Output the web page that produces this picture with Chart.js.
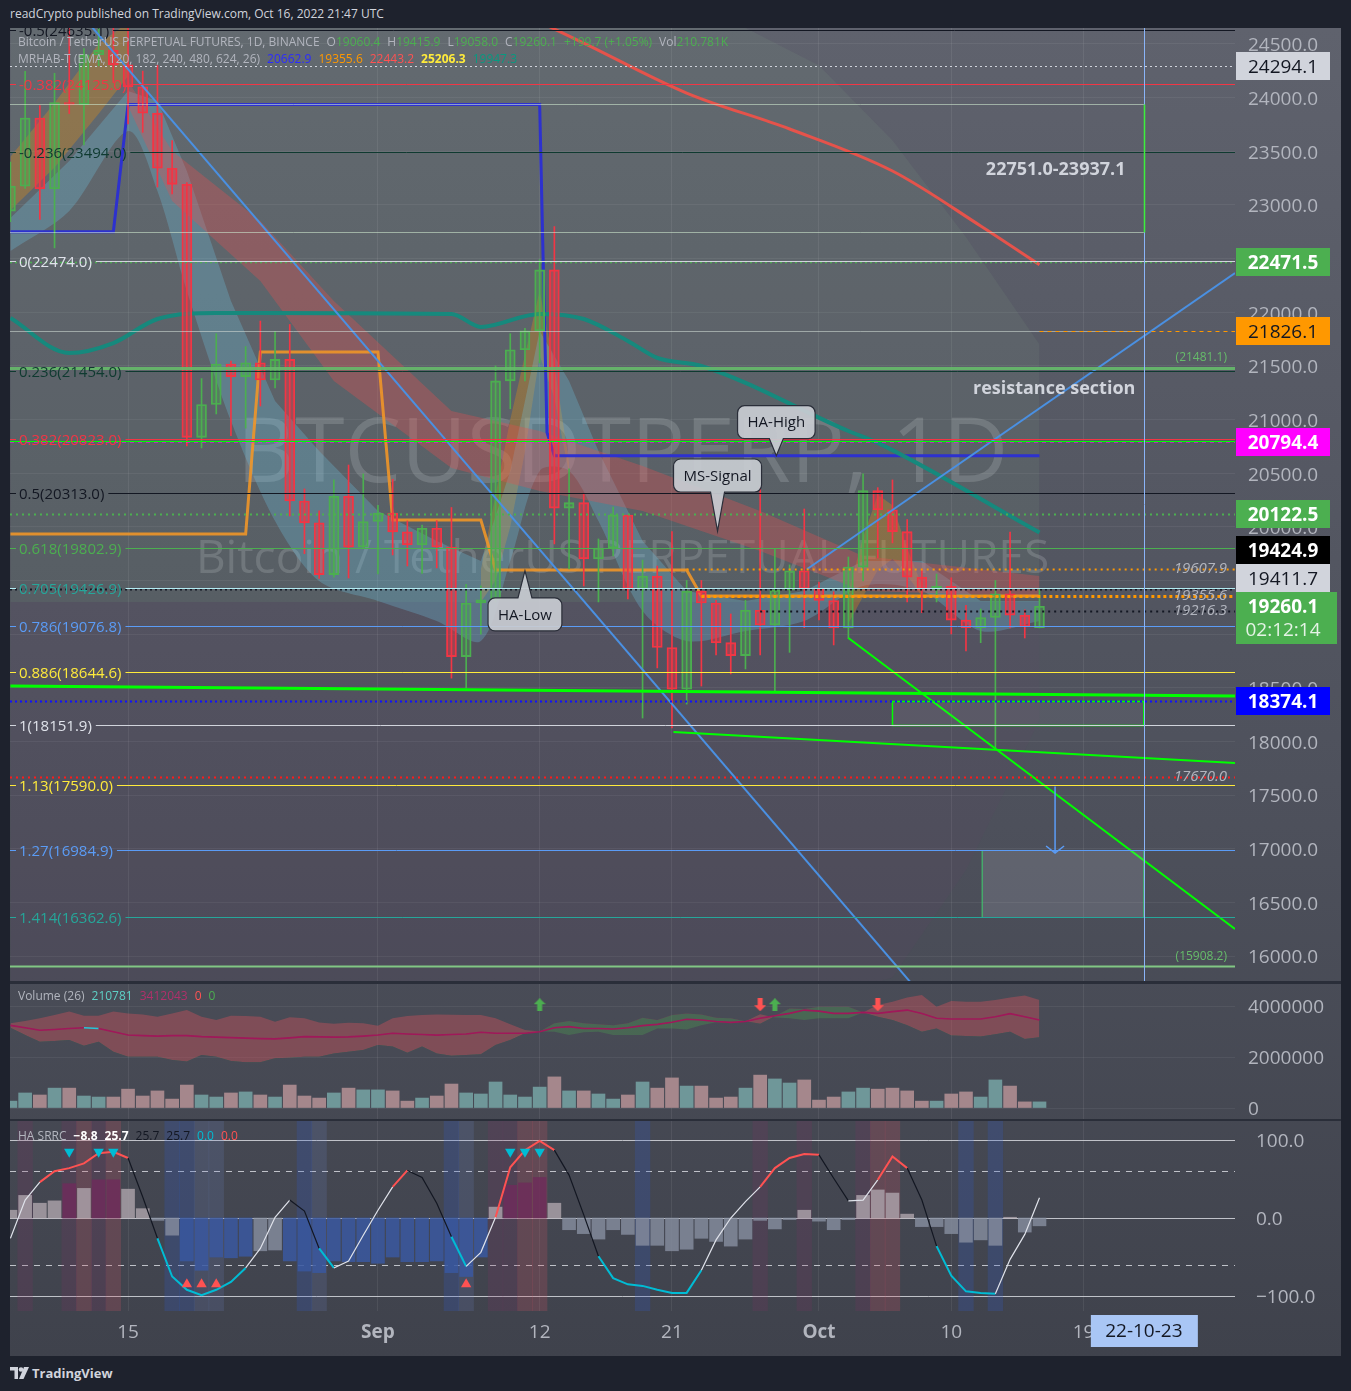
<!DOCTYPE html>
<html>
<head>
<meta charset="utf-8">
<title>BTCUSDTPERP, 1D</title>
<script src="https://cdn.jsdelivr.net/npm/chart.js@4.4.1/dist/chart.umd.min.js"></script>
<style>
  html, body { margin: 0; padding: 0; }
  body { width: 1351px; height: 1391px; background: #1e222d; overflow: hidden; font-family: 'Open Sans', sans-serif; position: relative; }
  #panel { position: absolute; left: 10px; top: 28px; width: 1331px; height: 1328px;
           background: linear-gradient(#5f626d 0%, #4d505b 60%, #3f424c 100%); }
  .pane { position: absolute; left: 10px; width: 1331px; }
  .pane canvas { display: block; }
  .sep { position: absolute; left: 10px; width: 1331px; background: #2a2e39; }
  .txt { position: absolute; white-space: nowrap; font-size: 12px; line-height: 16px; color: #b2b5be; }
  .g { color: #4caf50; }
  .sp { margin-left: 7px; }
</style>
</head>
<body>
<div class="txt" style="left:10px;top:6px;color:#d1d4dc">readCrypto published on TradingView.com, Oct 16, 2022 21:47 UTC</div>
<div id="panel"></div>
<div class="pane" style="top:28px;height:953px"><canvas id="main" width="1331" height="953"></canvas></div>
<div class="sep" style="top:981px;height:3px"></div>
<div class="pane" style="top:984px;height:135px"><canvas id="vol" width="1331" height="135"></canvas></div>
<div class="sep" style="top:1119px;height:2px"></div>
<div class="pane" style="top:1121px;height:235px"><canvas id="osc" width="1331" height="235"></canvas></div>

<div class="txt" style="left:18px;top:34px">Bitcoin / TetherUS PERPETUAL FUTURES, 1D, BINANCE<span class="sp">O</span><span class="g">19060.4</span><span class="sp">H</span><span class="g">19415.9</span><span class="sp">L</span><span class="g">19058.0</span><span class="sp">C</span><span class="g">19260.1</span><span class="sp g">+199.7 (+1.05%)</span><span class="sp">Vol</span><span class="g">210.781K</span></div>
<div class="txt" style="left:18px;top:51px">MRHAB-T (EMA, 120, 182, 240, 480, 624, 26)<span class="sp" style="color:#2b2bff">20662.9</span><span class="sp" style="color:#ff9800">19355.6</span><span class="sp" style="color:#ff5252">22443.2</span><span class="sp" style="color:#ffeb3b;font-weight:bold">25206.3</span><span class="sp" style="color:#089981">19947.3</span></div>
<div class="txt" style="left:18px;top:988px">Volume (26)<span class="sp" style="color:#5ed1c6">210781</span><span class="sp" style="color:#b0306a">3412043</span><span class="sp" style="color:#ff5252">0</span><span class="sp" style="color:#4caf50">0</span></div>
<div class="txt" style="left:18px;top:1128px">HA SRRC<span class="sp" style="color:#fff;font-weight:bold">&minus;8.8</span><span class="sp" style="color:#fff;font-weight:bold">25.7</span><span class="sp" style="color:#131722">25.7</span><span class="sp" style="color:#131722">25.7</span><span class="sp" style="color:#00bcd4">0.0</span><span class="sp" style="color:#ff5252">0.0</span></div>
<div class="txt" style="left:10px;top:1365px;color:#d1d4dc;font-size:13px;font-weight:bold">
  <svg width="19" height="12" style="vertical-align:-1px;margin-right:3px"><path d="M0 0h8v12h-3.5v-8.5h-4.5z" fill="#d1d4dc"/><circle cx="11" cy="2.5" r="2.3" fill="#d1d4dc"/><path d="M14 0h5l-5.5 12h-4.5z" fill="#d1d4dc"/></svg>TradingView</div>

<script>
// ---------- data ----------
const days = [];
for (let i = 0; i < 71; i++) {
  const d = new Date(Date.UTC(2022, 7, 7) + i * 864e5);
  days.push(d.toISOString().slice(0, 10));
}
const open  = [22943,23175,23810,23150,23955,23935,24400,24440,24306,24101,23855,23342,23192,20834,21140,21517,21400,21529,21368,21560,20241,20037,19555,20285,19811,20050,20127,19953,19832,19986,19812,18790,19290,19320,21360,21650,21826,22395,20175,20225,19701,19803,20110,19420,19540,18875,18486,19400,19290,18920,18800,19222,19085,19412,19591,19423,19313,19057,19625,20337,20159,19955,19531,19417,19446,19131,19060,19155,19375,19176,19060.4];
const high  = [23400,24245,23925,24227,24920,24458,24890,25047,25212,24247,24300,23600,23208,21382,21800,21545,21680,21918,21819,21886,20353,20148,20437,20576,20493,20200,20444,20055,20017,20058,20180,19463,19450,21500,21800,21850,22490,22799,20540,20306,19887,20185,20110,19690,19634,19956,19500,19500,19316,19188,19315,20371,19794,19645,20166,19486,19395,19719,20493,20365,20437,20068,19607,19560,19525,19268,19234,19500,19951,19227,19415.9];
const low   = [22843,23155,22865,22600,23852,23560,24296,24140,23754,23677,23167,23102,20754,20735,21052,20850,20920,21126,21294,20101,19750,19520,19530,19523,19800,19561,19738,19635,19565,19617,18590,18498,19000,19300,21100,21360,21527,19840,19607,19449,19300,19729,19328,18218,18685,18125,18348,18516,18806,18629,18675,18806,18470,18830,19060,19132,18899,18959,19495,19710,19850,19300,19200,19300,19002,18843,18920,17930,19057,18964,19058.0];
const close = [23175,23810,23150,23955,23935,24400,24440,24306,24101,23855,23342,23192,20834,21140,21517,21400,21529,21368,21560,20241,20037,19555,20285,19811,20050,20127,19953,19832,19986,19812,18790,19290,19320,21360,21650,21826,22395,20175,20225,19701,19803,20110,19420,19540,18875,18486,19400,19290,18920,18800,19222,19085,19412,19591,19423,19313,19057,19625,20337,20159,19955,19531,19417,19446,19131,19060,19155,19375,19176,19068,19260.1];
const volume = [0.27e6,0.59e6,0.51e6,0.78e6,0.78e6,0.47e6,0.43e6,0.43e6,0.74e6,0.47e6,0.67e6,0.35e6,0.90e6,0.51e6,0.43e6,0.59e6,0.63e6,0.51e6,0.43e6,0.90e6,0.47e6,0.39e6,0.59e6,0.78e6,0.71e6,0.71e6,0.67e6,0.27e6,0.39e6,0.47e6,0.94e6,0.59e6,0.55e6,1.02e6,0.51e6,0.43e6,0.82e6,1.22e6,0.67e6,0.67e6,0.55e6,0.35e6,0.51e6,1.02e6,0.78e6,1.18e6,0.86e6,0.86e6,0.39e6,0.43e6,0.78e6,1.29e6,1.14e6,0.98e6,1.10e6,0.31e6,0.43e6,0.63e6,0.78e6,0.74e6,0.78e6,0.67e6,0.27e6,0.27e6,0.55e6,0.63e6,0.43e6,1.10e6,0.86e6,0.24e6,0.24e6];
const volMa = [3.24e6,3.15e6,3.05e6,3.08e6,3.12e6,3.15e6,3.12e6,2.99e6,2.86e6,2.84e6,2.82e6,2.84e6,2.84e6,2.80e6,2.78e6,2.76e6,2.74e6,2.72e6,2.71e6,2.75e6,2.80e6,2.79e6,2.78e6,2.79e6,2.82e6,2.86e6,2.93e6,2.90e6,2.88e6,2.86e6,2.88e6,2.90e6,2.97e6,2.93e6,2.93e6,2.93e6,2.99e6,3.15e6,3.19e6,3.12e6,3.12e6,3.10e6,3.15e6,3.23e6,3.28e6,3.36e6,3.48e6,3.45e6,3.39e6,3.36e6,3.39e6,3.52e6,3.62e6,3.71e6,3.84e6,3.80e6,3.71e6,3.71e6,3.75e6,3.71e6,3.78e6,3.84e6,3.71e6,3.52e6,3.49e6,3.49e6,3.49e6,3.58e6,3.70e6,3.58e6,3.45e6];
const volBandA = [3.32e6,3.41e6,3.52e6,3.65e6,3.78e6,3.62e6,3.62e6,3.78e6,3.71e6,3.67e6,3.58e6,3.71e6,3.84e6,3.58e6,3.45e6,3.62e6,3.61e6,3.58e6,3.38e6,3.56e6,3.52e6,3.35e6,3.30e6,3.34e6,3.32e6,3.23e6,3.52e6,3.61e6,3.65e6,3.67e6,3.66e6,3.65e6,3.65e6,3.52e6,3.28e6,3.06e6,3.0e6,2.99e6,2.86e6,2.97e6,2.99e6,2.86e6,2.86e6,2.86e6,3.12e6,3.12e6,3.08e6,3.25e6,3.36e6,3.32e6,3.40e6,3.68e6,3.55e6,3.52e6,3.45e6,3.52e6,3.52e6,3.52e6,3.75e6,4.04e6,4.17e6,4.33e6,4.43e6,3.97e6,4.20e6,4.17e6,4.17e6,4.24e6,4.33e6,4.41e6,4.24e6];
const volBandB = [3.15e6,2.86e6,2.60e6,2.63e6,2.67e6,2.44e6,2.60e6,2.21e6,2.01e6,2.01e6,2.01e6,1.88e6,1.82e6,2.08e6,2.01e6,1.84e6,1.79e6,1.79e6,1.95e6,1.97e6,2.01e6,2.01e6,2.14e6,2.21e6,2.27e6,2.47e6,2.41e6,2.17e6,2.41e6,2.14e6,2.05e6,2.08e6,2.11e6,2.47e6,2.67e6,2.93e6,3.0e6,3.32e6,3.41e6,3.32e6,3.28e6,3.25e6,3.32e6,3.54e6,3.45e6,3.65e6,3.71e6,3.67e6,3.54e6,3.52e6,3.40e6,3.30e6,3.60e6,3.90e6,3.88e6,3.97e6,3.97e6,3.97e6,3.75e6,3.58e6,3.45e6,3.25e6,2.99e6,3.12e6,2.84e6,2.82e6,2.80e6,2.89e6,2.99e6,2.71e6,2.77e6];
const volUpArrowDays = [36, 52];
const volDownArrowDays = [51, 59];
const volArrowLevel = 4.05e6;

const oscLine = [-26,23,46,60,64,70,83,85,77,27,-26,-75,-92,-99,-92,-82,-64,-39,1,23,9,-39,-64,-55,-22,10,40,61,52,19,-24,-62,-44,1,65,87,99,87,55,4,-49,-77,-85,-87,-92,-96,-96,-67,-28,0,21,40,64,77,82,81,51,22,23,49,79,64,23,-36,-74,-94,-96,-97,-53,-21,26];
const oscState = 'wwrrrrrrkkccccccwwwkkcwwwwrkkkcwwrrrrkkkcccccccwwwwrrrrkkwwrrkkccccwww'.split('');
const oscHist = [10,29,19,22,44,38,49,49,37,12,-3,-22,-55,-67,-50,-51,-49,-42,-41,-55,-68,-70,-55,-56,-56,-58,-50,-56,-56,-55,-70,-75,-50,14,42,45,52,19,-15,-20,-27,-15,-21,-35,-35,-42,-40,-26,-30,-36,-27,-3,-14,-2,10,-4,-15,-2,29,36,32,5,-11,-11,-20,-31,-28,-35,1,-18,-10];
const oscBullDays = [1, 4, 6, 33, 34, 51, 54, 58];
const oscBullStrongDays = [5, 7, 35, 36, 59, 60];
const oscBearDays = [11, 12, 20, 30, 43, 65, 67];
const oscBearLightDays = [13, 14, 21, 31];
const oscTopMarkDays = [4, 6, 7, 34, 35, 36];
const oscBottomMarkDays = [12, 13, 14, 31];
const oscMarkLevel = 85;
const oscLevels = [100, 60, 0, -60, -100];

// moving-average ribbons (day index, price)
const blueStepDays = [0, 7, 8, 36, 36.5, 37, 70];
const blueStepVals = [22751, 22751, 23937, 23937, 20880, 20663, 20663];
const orangeStepDays = [0, 16, 17, 25, 26, 32, 33, 46, 47, 70];
const orangeStepVals = [19933, 19933, 21630, 21630, 20064, 20064, 19598, 19598, 19356, 19356];
const tealDays = [0, 4, 7, 10, 14, 17, 30, 32, 36, 39, 42, 44, 47, 57, 59, 70];
const tealVals = [21946, 21620, 21713, 21937, 21993, 21993, 21984, 21863, 21984, 21937, 21732, 21574, 21499, 20893, 20782, 19947];
const redDays = [33, 39, 46, 53, 60, 66, 70];
const redVals = [24900, 24509, 24043, 23708, 23316, 22804, 22443];
const cyanDays  = [0, 4, 8, 10, 12, 15, 18, 21, 25, 29, 32, 34, 36, 38, 40, 43, 46, 50, 54, 58, 62, 66, 70];
const cyanUpper = [22878, 23410, 24062, 23969, 23316, 22105, 21173, 20707, 20148, 19868, 19682, 20521, 21825, 21359, 20707, 19868, 19402, 19309, 19402, 19682, 19682, 19309, 19309];
const cyanLower = [22571, 22944, 23689, 23130, 22198, 20986, 20055, 19495, 19309, 19123, 18936, 19682, 20521, 20521, 20055, 19216, 18936, 19030, 19123, 19449, 19402, 19030, 19123];
const redBandDays  = [8, 11, 17, 22, 30, 36, 43, 51, 58, 70];
const redBandUpper = [24155, 23503, 22850, 22105, 21080, 20893, 20567, 20148, 19728, 19542];
const redBandLower = [23922, 23037, 22291, 21359, 20549, 20334, 20148, 19775, 19402, 19356];
const orangeBand1Days = [0, 3, 6, 8];
const orangeBand1Upper = [23450, 23950, 24500, 24700];
const orangeBand1Lower = [22950, 23350, 23850, 24200];
const orangeBand2Days = [32, 33, 34, 35, 36, 37, 38];
const orangeBand2Upper = [19600, 20300, 21000, 21600, 22200, 21500, 20600];
const orangeBand2Lower = [19300, 19500, 20000, 20700, 21600, 21200, 20500];
const orangeBand3Days = [57, 58, 59, 60, 61, 62];
const orangeBand3Upper = [19400, 19900, 20300, 20200, 19800, 19450];
const orangeBand3Lower = [19100, 19350, 19600, 19700, 19550, 19350];
const cloudDays   = [0, 45, 50, 55, 60, 65, 70];
const cloudUpper  = [24700, 24700, 24650, 24300, 23600, 22700, 21700];
const cloudMiddle = [19300, 19300, 19300, 19300, 19300, 19300, 19300];
const cloudLower  = [15600, 15600, 15600, 15600, 15800, 16800, 18200];

// drawings
const trendLines = [
  { days: [0, 83.3],    vals: [18517, 18424] },
  { days: [45.1, 83.3], vals: [18088, 17799] },
  { days: [57, 83.3],   vals: [18964, 16252] },
  { days: [5.0, 62],    vals: [24745, 15631] },
  { days: [54.2, 83.3], vals: [19607, 22366] }
];
const fibRatios = [-0.5, -0.382, -0.236, 0, 0.236, 0.382, 0.5, 0.618, 0.705, 0.786, 0.886, 1, 1.13, 1.27, 1.414];
const fibPrices = [24635.1, 24125.0, 23494.0, 22474.0, 21454.0, 20823.0, 20313.0, 19802.9, 19426.9, 19076.8, 18644.6, 18151.9, 17590.0, 16984.9, 16362.6];
const levelPrices = [24294.1, 23937.1, 22751.0, 22471.5, 21826.1, 21826.1, 21481.1, 20794.4, 20800.0, 20122.5, 19424.9, 19607.9, 19355.6, 19216.3, 18374.1, 17670.0, 15908.2];
const sideLabels = [19607.9, 19355.6, 19216.3, 17670.0];
const tagValues = [24294.1, 22471.5, 21826.1, 20794.4, 20122.5, 19424.9, 19411.7, 19260.1, 18374.1];
const countdown = '02:12:14';
const zoneLow = 22751.0, zoneHigh = 23937.1;
const boxes = [
  { d1: 60, d2: 77.1, p1: 18374.1, p2: 18151.9 },
  { d1: 66.1, d2: 77.1, p1: 16984.9, p2: 16362.6 }
];
const targetDay = 77.1;
const arrowDay = 71.06, arrowFrom = 17580, arrowTo = 16960;

const priceTicks = [16000,16500,17000,17500,18000,18500,19000,19500,20000,20500,21000,21500,22000,22500,23000,23500,24000,24500];
const volTicks = [0, 2000000, 4000000];
const oscTicks = [100, 0, -100];
const xTickDays = [8, 25, 36, 45, 55, 64, 73];
const xTickLabels = ['15', 'Sep', '12', '21', 'Oct', '10', '19'];
const targetLabel = '22-10-23';

// ---------- layout / style ----------
Chart.defaults.font.family = "'Open Sans', sans-serif";
const X_MIN = -0.03, X_MAX = 83.3;
const P_MIN = 15767.0, P_MAX = 24649.1;
const V_MIN = -0.431e6, V_MAX = 4.863e6;
const O_MIN = -119.2, O_MAX = 124.4;
const AXIS_W = 106;
const GRID = 'rgba(255,255,255,0.06)';
const AXIS_TXT = '#b2b5be';
const UP = '#4caf50', DN = '#f23645';
const FONT = "'Open Sans', sans-serif";

const fibColors = ['#131722', '#f23645', '#0f3a30', '#d1d4dc', '#0f3a30', '#f23645', '#131722', '#4caf50', '#b2ebf2', '#5b9cf6', '#ffeb3b', '#d1d4dc', '#ffeb3b', '#5b9cf6', '#26a69a'];
const fibTextColors = ['#131722', '#f23645', '#0f3a30', '#e0e3eb', '#0f3a30', '#f23645', '#131722', '#4caf50', '#26a69a', '#5b9cf6', '#ffeb3b', '#e0e3eb', '#ffeb3b', '#5b9cf6', '#26a69a'];
const levelStyles = [
  { color: '#d1d4dc', dash: [2, 3] },
  { color: 'rgba(205,230,205,0.6)', to: targetDay },
  { color: 'rgba(205,230,205,0.6)', to: targetDay },
  { color: '#4caf50', dash: [2, 3], width: 1.5 },
  { color: 'rgba(205,215,210,0.6)', to: targetDay },
  { color: '#ff9800', dash: [4, 4], from: 70 },
  { color: 'rgba(102,187,106,0.9)', width: 3 },
  { color: 'rgba(255,0,255,0.55)', dash: [4, 4] },
  { color: '#00ff00' },
  { color: '#4caf50', dash: [2, 4], width: 2 },
  { color: '#131722', dash: [2, 3], width: 2 },
  { color: '#ff9800', dash: [2, 4], width: 2, from: 46 },
  { color: '#ff9800', dash: [3, 3], width: 3, from: 47 },
  { color: '#131722', dash: [2, 4], width: 2, from: 51 },
  { color: '#1010ff', dash: [2, 3], width: 2 },
  { color: '#ff1a1a', dash: [2, 4], width: 2 },
  { color: '#81c784', width: 2 }
];
const tagStyles = [
  { bg: '#d1d4dc', fg: '#131722' },
  { bg: '#4caf50', fg: '#ffffff', bold: true },
  { bg: '#ff9800', fg: '#131722' },
  { bg: '#ff00ff', fg: '#ffffff', bold: true },
  { bg: '#4caf50', fg: '#ffffff', bold: true },
  { bg: '#000000', fg: '#ffffff', bold: true },
  { bg: '#d1d4dc', fg: '#131722' },
  { bg: '#4caf50', fg: '#ffffff', bold: true, sub: countdown },
  { bg: '#0000ff', fg: '#ffffff', bold: true }
];
const callouts = [
  { text: 'HA-High',   day: 52.1, price: 20663, dir: 'down', gap: 17 },
  { text: 'MS-Signal', day: 48.1, price: 19961, dir: 'down', gap: 39 },
  { text: 'HA-Low',    day: 35.0, price: 19589, dir: 'up',   gap: 27 }
];
const OSC_COLOR = { w: '#e0e3eb', r: '#ff5252', k: '#131722', c: '#00bcd4' };
const OSC_WIDTH = { w: 1.2, r: 2, k: 1.2, c: 2 };

const pts = (xs, ys) => xs.map((d, i) => ({ x: d, y: ys[i] }));
const isUp = i => close[i] >= open[i];
function lineDs(data, color, width, extra) {
  return Object.assign({ type: 'line', data, borderColor: color, borderWidth: width, pointRadius: 0,
    tension: 0, fill: false, clip: 0, order: 3 }, extra || {});
}
function bandDs(data, color, order) {
  return { type: 'line', data, borderWidth: 0, borderColor: 'transparent', pointRadius: 0, fill: '-1',
    backgroundColor: color, clip: 0, order };
}
function clipArea(ctx, ca) { ctx.beginPath(); ctx.rect(ca.left, ca.top, ca.width, ca.height); ctx.clip(); }
function xAxis(extra) {
  return Object.assign({
    type: 'linear', min: X_MIN, max: X_MAX, offset: false,
    grid: { color: 'rgba(255,255,255,0.07)', offset: false, drawTicks: false },
    border: { display: false },
    ticks: { display: false },
    afterBuildTicks: s => { s.ticks = xTickDays.map(v => ({ value: v })); },
    afterFit: s => { s.height = 0; s.paddingLeft = 0; s.paddingRight = 0; }
  }, extra || {});
}
function yAxis(min, max, ticks, fmt, extra) {
  return Object.assign({
    type: 'linear', position: 'right', min, max,
    grid: { color: GRID, drawTicks: false }, border: { display: false },
    ticks: { color: AXIS_TXT, font: { size: 19 }, padding: 13, labelOffset: 2, callback: fmt },
    afterBuildTicks: s => { s.ticks = ticks.map(v => ({ value: v })); },
    afterFit: s => { s.width = AXIS_W; s.paddingTop = 0; s.paddingBottom = 0; }
  }, extra || {});
}
const baseOptions = {
  responsive: false, animation: false, events: [],
  layout: { padding: 0, autoPadding: false },
  plugins: { legend: { display: false }, tooltip: { enabled: false } }
};

// ---------- main price pane ----------
const watermark = {
  id: 'watermark',
  beforeDatasetsDraw(chart) {
    const { ctx, chartArea: ca } = chart;
    const cx = (ca.left + ca.right) / 2;
    ctx.save(); clipArea(ctx, ca);
    ctx.fillStyle = 'rgba(215,218,226,0.2)';
    ctx.textAlign = 'center'; ctx.textBaseline = 'middle';
    ctx.font = '90px ' + FONT;
    ctx.fillText('BTCUSDTPERP, 1D', cx, ca.top + 428);
    ctx.font = '46px ' + FONT;
    ctx.fillText('Bitcoin / TetherUS PERPETUAL FUTURES', cx, ca.top + 532);
    ctx.restore();
  }
};

function drawCallout(ctx, c, x, y) {
  ctx.font = '15px ' + FONT;
  const cx = x.getPixelForValue(c.day), tip = y.getPixelForValue(c.price);
  const w = ctx.measureText(c.text).width + 20, h = 33, r = 7;
  const top = c.dir === 'down' ? tip - c.gap - h : tip + c.gap;
  const left = cx - w / 2;
  ctx.beginPath();
  ctx.moveTo(left + r, top);
  if (c.dir === 'up') { ctx.lineTo(cx - 7, top); ctx.lineTo(cx, tip); ctx.lineTo(cx + 7, top); }
  ctx.lineTo(left + w - r, top); ctx.arcTo(left + w, top, left + w, top + r, r);
  ctx.lineTo(left + w, top + h - r); ctx.arcTo(left + w, top + h, left + w - r, top + h, r);
  if (c.dir === 'down') { ctx.lineTo(cx + 7, top + h); ctx.lineTo(cx, tip); ctx.lineTo(cx - 7, top + h); }
  ctx.lineTo(left + r, top + h); ctx.arcTo(left, top + h, left, top + h - r, r);
  ctx.lineTo(left, top + r); ctx.arcTo(left, top, left + r, top, r);
  ctx.closePath();
  ctx.fillStyle = 'rgba(200,203,210,0.93)'; ctx.fill();
  ctx.strokeStyle = '#2a2e39'; ctx.lineWidth = 1.2; ctx.stroke();
  ctx.fillStyle = '#131722'; ctx.textAlign = 'center'; ctx.textBaseline = 'middle';
  ctx.fillText(c.text, cx, top + h / 2 + 1);
}

const drawings = {
  id: 'drawings',
  afterDatasetsDraw(chart) {
    const { ctx, chartArea: ca, scales: { x, y } } = chart;
    const py = p => Math.round(y.getPixelForValue(p)) + 0.5;
    ctx.save(); clipArea(ctx, ca);

    // boxes
    boxes.forEach((b, i) => {
      const x1 = x.getPixelForValue(b.d1), x2 = x.getPixelForValue(b.d2);
      const y1 = py(b.p1), y2 = py(b.p2);
      ctx.fillStyle = i === 0 ? 'rgba(255,255,255,0.05)' : 'rgba(190,194,204,0.18)';
      ctx.fillRect(x1, y1, x2 - x1, y2 - y1);
      ctx.strokeStyle = i === 0 ? '#00ff00' : '#3ccf6e'; ctx.lineWidth = i === 0 ? 1.5 : 1;
      ctx.strokeRect(x1, y1, x2 - x1, y2 - y1);
    });

    // horizontal levels
    levelPrices.forEach((p, i) => {
      const st = levelStyles[i];
      const yy = py(p);
      const x1 = st.from == null ? ca.left : x.getPixelForValue(st.from);
      const x2 = st.to == null ? ca.right : x.getPixelForValue(st.to);
      ctx.strokeStyle = st.color; ctx.lineWidth = st.width || 1; ctx.setLineDash(st.dash || []);
      ctx.beginPath(); ctx.moveTo(x1, yy); ctx.lineTo(x2, yy); ctx.stroke();
    });
    ctx.setLineDash([]);

    // fib levels with labels
    ctx.font = '15px ' + FONT; ctx.textBaseline = 'middle'; ctx.textAlign = 'left';
    fibRatios.forEach((r, i) => {
      const yy = py(fibPrices[i]);
      const label = String(r) + '(' + fibPrices[i].toFixed(1) + ')';
      const tx = ca.left + 9, tw = ctx.measureText(label).width;
      ctx.strokeStyle = fibColors[i]; ctx.lineWidth = 1;
      ctx.beginPath(); ctx.moveTo(ca.left, yy); ctx.lineTo(tx - 3, yy);
      ctx.moveTo(tx + tw + 4, yy); ctx.lineTo(ca.right, yy); ctx.stroke();
      ctx.fillStyle = fibTextColors[i]; ctx.fillText(label, tx, yy + 1);
    });

    // target date line and zone edge
    const tx = Math.round(x.getPixelForValue(targetDay)) + 0.5;
    ctx.strokeStyle = '#8ab4f8'; ctx.lineWidth = 1;
    ctx.beginPath(); ctx.moveTo(tx, ca.top); ctx.lineTo(tx, ca.bottom); ctx.stroke();
    ctx.strokeStyle = '#3cf03c'; ctx.lineWidth = 1.5;
    ctx.beginPath(); ctx.moveTo(tx, py(zoneHigh)); ctx.lineTo(tx, py(zoneLow)); ctx.stroke();

    // arrow
    const ax = x.getPixelForValue(arrowDay), a1 = y.getPixelForValue(arrowFrom), a2 = y.getPixelForValue(arrowTo);
    ctx.strokeStyle = '#5b9cf6'; ctx.lineWidth = 1.5;
    ctx.beginPath(); ctx.moveTo(ax, a1); ctx.lineTo(ax, a2);
    ctx.moveTo(ax - 9, a2 - 7); ctx.lineTo(ax, a2); ctx.lineTo(ax + 9, a2 - 7); ctx.stroke();

    // texts on the right part
    ctx.fillStyle = '#d1d4dc'; ctx.textAlign = 'center';
    ctx.font = 'bold 18px ' + FONT;
    ctx.fillText(zoneLow.toFixed(1) + '-' + zoneHigh.toFixed(1), x.getPixelForValue(71.1), y.getPixelForValue((zoneLow + zoneHigh) / 2) + 2);
    ctx.fillText('resistance section', x.getPixelForValue(71), y.getPixelForValue(21294) + 1);

    ctx.textAlign = 'right'; ctx.font = 'italic 15px ' + FONT; ctx.fillStyle = AXIS_TXT;
    sideLabels.forEach(p => ctx.fillText(p.toFixed(1), ca.right - 8, y.getPixelForValue(p)));
    ctx.font = '12px ' + FONT; ctx.fillStyle = '#66bb6a';
    ctx.fillText('(21481.1)', ca.right - 8, y.getPixelForValue(21481.1) - 10);
    ctx.fillText('(15908.2)', ca.right - 8, y.getPixelForValue(15908.2) - 9);

    callouts.forEach(c => drawCallout(ctx, c, x, y));
    ctx.restore();
  },
  afterDraw(chart) {
    const { ctx, chartArea: ca, scales: { y } } = chart;
    ctx.save();
    const order = tagValues.map((v, i) => i).sort((a, b) => tagValues[a] - tagValues[b]);
    let prevTop = Infinity;
    order.forEach(i => {
      const st = tagStyles[i];
      const h = st.sub ? 52 : 28;
      let top = Math.round(y.getPixelForValue(tagValues[i])) - 14;
      if (top + h > prevTop) top = prevTop - h;
      prevTop = top;
      const left = ca.right + 1, w = st.sub ? 101 : 94;
      ctx.fillStyle = st.bg; ctx.fillRect(left, top, w, h);
      ctx.fillStyle = st.fg; ctx.textAlign = 'center'; ctx.textBaseline = 'middle';
      ctx.font = (st.bold ? 'bold ' : '') + '19px ' + FONT;
      ctx.fillText(tagValues[i].toFixed(1), left + 47, top + 15.5);
      if (st.sub) { ctx.font = '19px ' + FONT; ctx.fillStyle = 'rgba(255,255,255,0.85)'; ctx.fillText(st.sub, left + 47, top + 39); }
    });
    ctx.restore();
  }
};

const candleIdx = days.map((d, i) => i);
new Chart(document.getElementById('main'), {
  type: 'bar',
  data: {
    datasets: [
      lineDs(pts(cloudDays, cloudUpper), 'transparent', 0, { order: 9 }),
      bandDs(pts(cloudDays, cloudMiddle), 'rgba(150,205,150,0.08)', 9),
      bandDs(pts(cloudDays, cloudLower), 'rgba(120,60,110,0.08)', 9),
      lineDs(pts(orangeBand1Days, orangeBand1Lower), 'transparent', 0, { order: 8 }),
      bandDs(pts(orangeBand1Days, orangeBand1Upper), 'rgba(255,152,0,0.28)', 8),
      lineDs(pts(orangeBand2Days, orangeBand2Lower), 'transparent', 0, { order: 8 }),
      bandDs(pts(orangeBand2Days, orangeBand2Upper), 'rgba(255,152,0,0.28)', 8),
      lineDs(pts(orangeBand3Days, orangeBand3Lower), 'transparent', 0, { order: 8 }),
      bandDs(pts(orangeBand3Days, orangeBand3Upper), 'rgba(255,152,0,0.28)', 8),
      lineDs(pts(cyanDays, cyanLower), 'transparent', 0, { order: 7, tension: 0.3 }),
      bandDs(pts(cyanDays, cyanUpper), 'rgba(110,205,235,0.27)', 7),
      lineDs(pts(redBandDays, redBandLower), 'transparent', 0, { order: 6 }),
      bandDs(pts(redBandDays, redBandUpper), 'rgba(230,80,80,0.33)', 6),
      lineDs(pts(tealDays, tealVals), '#16897d', 4, { cubicInterpolationMode: 'monotone' }),
      lineDs(pts(redDays, redVals), '#e5534b', 3, { cubicInterpolationMode: 'monotone' }),
      lineDs(pts(orangeStepDays, orangeStepVals), 'rgba(240,150,40,0.9)', 3),
      lineDs(pts(blueStepDays, blueStepVals), '#2d31cf', 3),
      ...trendLines.map((t, i) => lineDs(pts(t.days, t.vals),
        i < 3 ? '#00ff00' : '#4a90e2', i === 0 ? 3 : 2, { order: -1 })),
      {
        type: 'bar', grouped: false, order: 1, barThickness: 1,
        data: candleIdx.map(i => ({ x: i, y: [low[i], high[i]] })),
        backgroundColor: candleIdx.map(i => isUp(i) ? UP : DN), borderWidth: 0
      },
      {
        type: 'bar', grouped: false, order: 0, barThickness: 10,
        data: candleIdx.map(i => ({ x: i, y: [open[i], close[i]] })),
        backgroundColor: candleIdx.map(i => isUp(i) ? 'rgba(76,175,80,0.35)' : 'rgba(242,54,69,0.45)'),
        borderColor: candleIdx.map(i => isUp(i) ? UP : DN), borderWidth: 1.2, borderSkipped: false
      }
    ]
  },
  options: Object.assign({}, baseOptions, {
    scales: { x: xAxis(), y: yAxis(P_MIN, P_MAX, priceTicks, v => v.toFixed(1)) }
  }),
  plugins: [watermark, drawings]
});

// ---------- volume pane ----------
function arrowIcon(color, up) {
  const c = document.createElement('canvas'); c.width = 12; c.height = 13;
  const g = c.getContext('2d'); g.fillStyle = color; g.beginPath();
  if (up) { g.moveTo(6, 0); g.lineTo(12, 6); g.lineTo(8.5, 6); g.lineTo(8.5, 13); g.lineTo(3.5, 13); g.lineTo(3.5, 6); g.lineTo(0, 6); }
  else { g.moveTo(6, 13); g.lineTo(12, 7); g.lineTo(8.5, 7); g.lineTo(8.5, 0); g.lineTo(3.5, 0); g.lineTo(3.5, 7); g.lineTo(0, 7); }
  g.closePath(); g.fill(); return c;
}
new Chart(document.getElementById('vol'), {
  type: 'bar',
  data: {
    datasets: [
      lineDs(pts(candleIdx, volBandB), 'transparent', 0, { order: 6 }),
      lineDs(pts(candleIdx, volBandA), 'transparent', 0, { order: 6,
        fill: { target: 0, above: 'rgba(205,80,90,0.42)', below: 'rgba(76,175,80,0.28)' } }),
      lineDs(pts(candleIdx, volMa), '#a0185a', 1.6, { order: 2,
        segment: { borderColor: c => c.p0DataIndex === 5 ? '#26c6da' : '#a0185a' } }),
      {
        type: 'bar', grouped: false, order: 3, barThickness: 13,
        data: candleIdx.map(i => ({ x: i, y: volume[i] })),
        backgroundColor: candleIdx.map(i => isUp(i) ? '#6f9799' : '#a5878c')
      },
      lineDs(volUpArrowDays.map(d => ({ x: d, y: volArrowLevel })), 'transparent', 0,
        { showLine: false, pointRadius: 6, pointStyle: arrowIcon('#4caf50', true), order: 0 }),
      lineDs(volDownArrowDays.map(d => ({ x: d, y: volArrowLevel })), 'transparent', 0,
        { showLine: false, pointRadius: 6, pointStyle: arrowIcon('#ff5252', false), order: 0 })
    ]
  },
  options: Object.assign({}, baseOptions, {
    scales: { x: xAxis(), y: yAxis(V_MIN, V_MAX, volTicks, v => String(v)) }
  })
});

// ---------- oscillator pane ----------
const oscLevelsPlugin = {
  id: 'oscLevels',
  beforeDatasetsDraw(chart) {
    const { ctx, chartArea: ca, scales: { y } } = chart;
    ctx.save(); clipArea(ctx, ca);
    oscLevels.forEach(v => {
      const yy = Math.round(y.getPixelForValue(v)) + 0.5;
      ctx.strokeStyle = 'rgba(214,216,222,0.85)'; ctx.lineWidth = 1;
      ctx.setLineDash(Math.abs(v) === 60 ? [6, 6] : []);
      ctx.beginPath(); ctx.moveTo(ca.left, yy); ctx.lineTo(ca.right, yy); ctx.stroke();
    });
    ctx.restore();
  },
  afterDraw(chart) {
    const { ctx, chartArea: ca, scales: { x } } = chart;
    const cx = x.getPixelForValue(targetDay);
    ctx.save();
    ctx.fillStyle = '#a9c6f5';
    ctx.fillRect(cx - 53, ca.bottom + 4, 107, 32);
    ctx.fillStyle = '#131722'; ctx.font = '19px ' + FONT;
    ctx.textAlign = 'center'; ctx.textBaseline = 'middle';
    ctx.fillText(targetLabel, cx, ca.bottom + 21);
    ctx.restore();
  }
};
const bandBars = (list, color) => ({
  type: 'bar', grouped: false, order: 6, barThickness: 14.7,
  data: list.map(d => ({ x: d, y: [-200, 200] })), backgroundColor: color
});
const histColor = v => v >= 40 ? 'rgba(110,45,90,0.85)' : v > 0 ? 'rgba(175,165,172,0.8)'
  : v <= -45 ? 'rgba(58,88,160,0.85)' : 'rgba(135,142,160,0.8)';
new Chart(document.getElementById('osc'), {
  type: 'bar',
  data: {
    datasets: [
      bandBars(oscBullDays, 'rgba(125,50,100,0.2)'),
      bandBars(oscBullStrongDays, 'rgba(190,80,95,0.26)'),
      bandBars(oscBearDays, 'rgba(50,90,190,0.26)'),
      bandBars(oscBearLightDays, 'rgba(110,135,200,0.18)'),
      {
        type: 'bar', grouped: false, order: 4, barThickness: 13,
        data: candleIdx.map(i => ({ x: i, y: oscHist[i] })),
        backgroundColor: candleIdx.map(i => histColor(oscHist[i]))
      },
      lineDs(pts(candleIdx, oscLine), '#e0e3eb', 1.2, { order: 2,
        segment: {
          borderColor: c => OSC_COLOR[oscState[c.p0DataIndex]],
          borderWidth: c => OSC_WIDTH[oscState[c.p0DataIndex]]
        } }),
      lineDs(oscTopMarkDays.map(d => ({ x: d, y: oscMarkLevel })), 'transparent', 0,
        { showLine: false, pointRadius: 6, pointStyle: 'triangle', rotation: 180,
          pointBackgroundColor: '#00bcd4', pointBorderWidth: 0, order: 0 }),
      lineDs(oscBottomMarkDays.map(d => ({ x: d, y: -oscMarkLevel })), 'transparent', 0,
        { showLine: false, pointRadius: 6, pointStyle: 'triangle',
          pointBackgroundColor: '#ff5252', pointBorderWidth: 0, order: 0 })
    ]
  },
  options: Object.assign({}, baseOptions, {
    scales: {
      x: xAxis({
        ticks: {
          display: true, color: AXIS_TXT, padding: 10, maxRotation: 0, autoSkip: false,
          font: c => ({ size: 19, weight: /^[A-Z]/.test(xTickLabels[c.index] || '') ? 'bold' : 'normal' }),
          callback: (v, i) => xTickLabels[i]
        },
        afterFit: s => { s.height = 45; s.paddingLeft = 0; s.paddingRight = 0; }
      }),
      y: yAxis(O_MIN, O_MAX, oscTicks, v => (v < 0 ? '\u2212' : '') + Math.abs(v).toFixed(1), { grid: { display: false } })
    }
  }),
  plugins: [oscLevelsPlugin]
});
</script>
</body>
</html>
